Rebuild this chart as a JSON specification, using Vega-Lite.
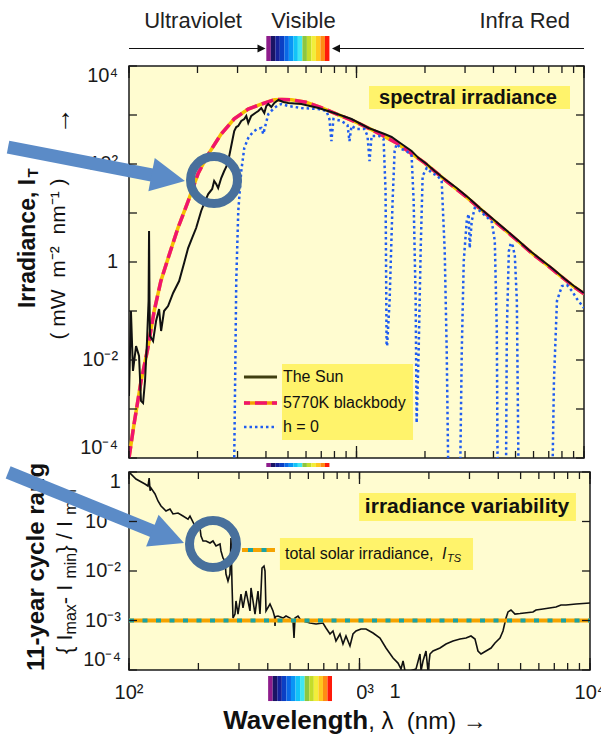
{
"$schema": "https://vega.github.io/schema/vega-lite/v6.json",
"background": "white",
"padding": {"left": 0, "top": 9, "right": 0, "bottom": 0},
"spacing": 14,
"bounds": "flush",
"config": {
  "view": {"fill": "#fffcd0", "stroke": "#1a1a1a", "strokeWidth": 1.5},
  "text": {"font": "Liberation Sans", "color": "#111111"}
},
"datasets": {
  "xminor": [{"w":100},{"w":200},{"w":300},{"w":400},{"w":500},{"w":600},{"w":700},{"w":800},{"w":900},{"w":1000},{"w":2000},{"w":3000},{"w":4000},{"w":5000},{"w":6000},{"w":7000},{"w":8000},{"w":9000},{"w":10000}],
  "xmajor": [{"w":100},{"w":1000},{"w":10000}],
  "ytop": [{"v":0.0001},{"v":0.001},{"v":0.01},{"v":0.1},{"v":1},{"v":10},{"v":100},{"v":1000},{"v":10000}],
  "ybot": [{"v":0.0001},{"v":0.001},{"v":0.01},{"v":0.1},{"v":1}],
  "ytoplab": [{"v":100,"t":"10²"},{"v":1,"t":"1"},{"v":0.01,"t":"10⁻²"}],
  "ybotlab": [{"v":0.1,"t":"10⁻¹"},{"v":0.01,"t":"10⁻²"},{"v":0.001,"t":"10⁻³"}],
  "xlab": [{"w":100,"t":"10²"},{"w":1000,"t":"10³"},{"w":10000,"t":"10⁴"}],
  "sun": [{"w":100,"v":0.00184},{"w":102,"v":0.1},{"w":104.1,"v":0.00597},{"w":107.4,"v":0.0193},{"w":110.7,"v":0.0121},{"w":112.9,"v":0.00146},{"w":115.3,"v":0.00132},{"w":117.6,"v":0.00372},{"w":120,"v":0.0244},{"w":121.9,"v":0.16},{"w":122.5,"v":4.3},{"w":123.1,"v":0.16},{"w":123.7,"v":0.0309},{"w":127.6,"v":0.0244},{"w":131.5,"v":0.0625},{"w":135.6,"v":0.11},{"w":138.4,"v":0.0391},{"w":142.6,"v":0.1},{"w":148.5,"v":0.126},{"w":156.3,"v":0.233},{"w":166.1,"v":0.409},{"w":174.7,"v":0.955},{"w":181.9,"v":1.93},{"w":189.5,"v":3.09},{"w":197.3,"v":4.94},{"w":207.6,"v":11},{"w":216.2,"v":17.6},{"w":222.9,"v":24.4},{"w":232.1,"v":30.9},{"w":236.8,"v":45},{"w":241.7,"v":39.1},{"w":246.6,"v":32.4},{"w":254.3,"v":51.8},{"w":262.1,"v":71.9},{"w":267.5,"v":86.9},{"w":273,"v":115},{"w":278.6,"v":184},{"w":284.3,"v":294},{"w":290.1,"v":471},{"w":296.1,"v":569},{"w":302.1,"v":597},{"w":311.5,"v":755},{"w":321.1,"v":828},{"w":327.7,"v":955},{"w":334.4,"v":687},{"w":344.7,"v":955},{"w":359,"v":1099},{"w":370.1,"v":1208},{"w":381.5,"v":1390},{"w":393.3,"v":1099},{"w":401.4,"v":1528},{"w":409.6,"v":1675},{"w":422.3,"v":1455},{"w":435.3,"v":1758},{"w":453.4,"v":2023},{"w":476.9,"v":1841},{"w":501.7,"v":1758},{"w":572.4,"v":1675},{"w":680.2,"v":1390},{"w":800,"v":1099},{"w":950.6,"v":828},{"w":1129.6,"v":543},{"w":1328.7,"v":409},{"w":1426,"v":356},{"w":1578.7,"v":256},{"w":1747,"v":184},{"w":1875.8,"v":132},{"w":2034,"v":100},{"w":2206,"v":71.9},{"w":2442,"v":49.4},{"w":2758,"v":32.4},{"w":3114.8,"v":20.2},{"w":3483,"v":12.6},{"w":3933,"v":7.91},{"w":4487,"v":4.71},{"w":5173,"v":2.69},{"w":5724,"v":1.76},{"w":6338,"v":1.21},{"w":7228,"v":0.755},{"w":8246,"v":0.45},{"w":9034,"v":0.324},{"w":10000,"v":0.233}],
  "bb": [{"w":100,"v":0.0001},{"w":105.2,"v":0.00049},{"w":113,"v":0.00372},{"w":121,"v":0.0174},{"w":129,"v":0.1},{"w":138,"v":0.407},{"w":148.6,"v":1.2},{"w":164,"v":4.9},{"w":182,"v":17.4},{"w":201,"v":63.1},{"w":223,"v":158},{"w":254,"v":407},{"w":290,"v":832},{"w":334,"v":1318},{"w":381,"v":1660},{"w":435,"v":2042},{"w":470,"v":2080},{"w":518,"v":2042},{"w":600,"v":1820},{"w":700,"v":1413},{"w":800,"v":1096},{"w":1000,"v":708},{"w":1200,"v":468},{"w":1500,"v":269},{"w":2000,"v":104},{"w":2500,"v":43.7},{"w":3000,"v":22.4},{"w":4000,"v":7.08},{"w":5000,"v":2.95},{"w":6000,"v":1.41},{"w":7000,"v":0.813},{"w":8000,"v":0.49},{"w":9000,"v":0.316},{"w":10000,"v":0.224}],
  "h0": [{"w":285,"v":0.00001},{"w":290.1,"v":0.0001},{"w":293.1,"v":0.00597},{"w":296.1,"v":0.409},{"w":302.2,"v":11},{"w":311.5,"v":71.9},{"w":321.1,"v":212},{"w":334.4,"v":340},{"w":344.7,"v":409},{"w":355.3,"v":471},{"w":366.4,"v":518},{"w":381.5,"v":543},{"w":389.3,"v":409},{"w":397.3,"v":597},{"w":409.6,"v":1047},{"w":422.3,"v":1208},{"w":435.3,"v":1390},{"w":453.4,"v":1600},{"w":467.4,"v":1675},{"w":501.8,"v":1528},{"w":572.4,"v":1390},{"w":680.2,"v":1324},{"w":737.7,"v":1208},{"w":760.4,"v":828},{"w":776,"v":294},{"w":791.9,"v":828},{"w":859.1,"v":755},{"w":912.9,"v":625},{"w":931.6,"v":294},{"w":950.6,"v":597},{"w":1000,"v":518},{"w":1084,"v":518},{"w":1118,"v":372},{"w":1141,"v":115},{"w":1165,"v":372},{"w":1263,"v":372},{"w":1315,"v":324},{"w":1342,"v":28.1},{"w":1356,"v":0.0193},{"w":1363,"v":0.0193},{"w":1398,"v":0.16},{"w":1441,"v":17.6},{"w":1471,"v":184},{"w":1501,"v":256},{"w":1578,"v":202},{"w":1661,"v":184},{"w":1747,"v":146},{"w":1783,"v":17.6},{"w":1820,"v":0.16},{"w":1838,"v":0.000518},{"w":1876,"v":0.0153},{"w":1914,"v":1.67},{"w":1953,"v":56.9},{"w":2035,"v":82.8},{"w":2140,"v":65.5},{"w":2274,"v":56.9},{"w":2368,"v":45},{"w":2442,"v":1.67},{"w":2492,"v":0.0153},{"w":2543,"v":0.00001},{"w":2843,"v":0.00001},{"w":2902,"v":0.0153},{"w":2961,"v":1.05},{"w":3051,"v":6.87},{"w":3113,"v":9.55},{"w":3145,"v":1.93},{"w":3210,"v":6.87},{"w":3309,"v":12.6},{"w":3446,"v":11.5},{"w":3739,"v":8.3},{"w":3933,"v":6.6},{"w":4054,"v":2.69},{"w":4138,"v":0.0391},{"w":4180,"v":0.00001},{"w":4533,"v":0.00001},{"w":4579,"v":0.0391},{"w":4673,"v":1.67},{"w":4769,"v":2.44},{"w":4866,"v":2.12},{"w":4966,"v":1.32},{"w":5068,"v":0.16},{"w":5172,"v":0.00001},{"w":7228,"v":0.00001},{"w":7377,"v":0.00372},{"w":7605,"v":0.16},{"w":8000,"v":0.324},{"w":8416,"v":0.34},{"w":8854,"v":0.256},{"w":9316,"v":0.176},{"w":10000,"v":0.115}],
  "var": [{"w":100,"v":1},{"w":107.2,"v":0.722},{"w":117.3,"v":0.572},{"w":120.9,"v":0.521},{"w":122.3,"v":0.75},{"w":123.5,"v":0.42},{"w":124.6,"v":0.475},{"w":129.7,"v":0.36},{"w":133.6,"v":0.26},{"w":137.7,"v":0.206},{"w":144.7,"v":0.163},{"w":150.6,"v":0.179},{"w":155.2,"v":0.142},{"w":163.2,"v":0.148},{"w":171.5,"v":0.129},{"w":180.3,"v":0.112},{"w":183.9,"v":0.129},{"w":193.4,"v":0.0811},{"w":203.3,"v":0.0739},{"w":205.3,"v":0.0509},{"w":209.5,"v":0.0404},{"w":215.8,"v":0.0404},{"w":224.6,"v":0.0368},{"w":231.4,"v":0.0404},{"w":238.5,"v":0.032},{"w":248.2,"v":0.0351},{"w":250.7,"v":0.0254},{"w":255.7,"v":0.0183},{"w":260.9,"v":0.0159},{"w":263.5,"v":0.00869},{"w":268.8,"v":0.00628},{"w":274.2,"v":0.00869},{"w":277,"v":0.0464},{"w":279.8,"v":0.00546},{"w":282.6,"v":0.00112},{"w":288.3,"v":0.00135},{"w":291.2,"v":0.00248},{"w":297.1,"v":0.00135},{"w":306.1,"v":0.00343},{"w":312.3,"v":0.00179},{"w":321.8,"v":0.00394},{"w":334.9,"v":0.00156},{"w":338.3,"v":0.00454},{"w":352.1,"v":0.00135},{"w":362.8,"v":0.00394},{"w":370.1,"v":0.00135},{"w":377.6,"v":0.0115},{"w":385.2,"v":0.0126},{"w":389.1,"v":0.01},{"w":393,"v":0.00156},{"w":409,"v":0.00215},{"w":421.5,"v":0.00156},{"w":428,"v":0.0012},{"w":430,"v":0.000774},{"w":432,"v":0.0012},{"w":443.1,"v":0.00123},{"w":465.8,"v":0.00112},{"w":479.9,"v":0.00123},{"w":499.5,"v":0.00112},{"w":514.7,"v":0.000977},{"w":519.9,"v":0.000443},{"w":525.1,"v":0.00112},{"w":541.1,"v":0.00123},{"w":552,"v":0.00107},{"w":568.8,"v":0.000977},{"w":610,"v":0.000889},{"w":647.7,"v":0.000849},{"w":694.4,"v":0.000889},{"w":715.5,"v":0.000705},{"w":744.7,"v":0.000533},{"w":767.3,"v":0.000614},{"w":790.6,"v":0.000385},{"w":822.9,"v":0.000533},{"w":847.9,"v":0.000335},{"w":873.7,"v":0.000486},{"w":909.3,"v":0.000305},{"w":937,"v":0.000533},{"w":965.7,"v":0.000614},{"w":1015,"v":0.000673},{"w":1067,"v":0.000673},{"w":1145,"v":0.000559},{"w":1227,"v":0.000443},{"w":1303,"v":0.000278},{"w":1398,"v":0.000175},{"w":1469,"v":0.000138},{"w":1514,"v":0.000105},{"w":1545,"v":0.000152},{"w":1576,"v":0.0000955},{"w":1656,"v":0.0000955},{"w":1759,"v":0.000105},{"w":1830,"v":0.00021},{"w":1849,"v":0.0000955},{"w":1886,"v":0.000152},{"w":1943,"v":0.000242},{"w":1982,"v":0.0000955},{"w":2022,"v":0.00021},{"w":2084,"v":0.000242},{"w":2235,"v":0.000278},{"w":2373,"v":0.000335},{"w":2545,"v":0.000385},{"w":2730,"v":0.000423},{"w":2898,"v":0.000443},{"w":3046,"v":0.000486},{"w":3170,"v":0.000423},{"w":3266,"v":0.000242},{"w":3366,"v":0.00021},{"w":3539,"v":0.000242},{"w":3720,"v":0.000278},{"w":3871,"v":0.000351},{"w":4069,"v":0.000443},{"w":4193,"v":0.000614},{"w":4321,"v":0.00112},{"w":4408,"v":0.00149},{"w":4542,"v":0.00163},{"w":4727,"v":0.00135},{"w":4969,"v":0.00138},{"w":5658,"v":0.00149},{"w":5831,"v":0.00163},{"w":6253,"v":0.00171},{"w":7118,"v":0.00187},{"w":7483,"v":0.00206},{"w":7869,"v":0.00206},{"w":8697,"v":0.00215},{"w":10000,"v":0.00226}],
  "stripes": [{"lo":401.4,"hi":420.1,"c":0},{"lo":420.1,"hi":439.7,"c":1},{"lo":439.7,"hi":460.3,"c":2},{"lo":460.3,"hi":481.7,"c":3},{"lo":481.7,"hi":504.3,"c":4},{"lo":504.3,"hi":527.8,"c":5},{"lo":527.8,"hi":552.4,"c":6},{"lo":552.4,"hi":578.2,"c":7},{"lo":578.2,"hi":605.3,"c":8},{"lo":605.3,"hi":633.5,"c":9},{"lo":633.5,"hi":663.1,"c":10},{"lo":663.1,"hi":694.2,"c":11},{"lo":694.2,"hi":726.6,"c":12},{"lo":726.6,"hi":760.3,"c":13}]
},
"vconcat": [
{
  "width": 455, "height": 392,
  "data": {"values": [{}]},
  "layer": [
    {"data": {"name": "bb"}, "mark": {"type": "line", "color": "#f5c000", "strokeWidth": 3.5, "clip": true},
     "encoding": {"x": {"field": "w", "type": "quantitative", "scale": {"type": "log", "domain": [100, 10000], "nice": false}, "axis": null}, "y": {"field": "v", "type": "quantitative", "scale": {"type": "log", "domain": [0.0001, 10000], "nice": false}, "axis": null}}},
    {"mark": {"type": "text", "text": "10⁴", "fontSize": 20, "align": "right", "baseline": "top", "color": "#1a1a1a"},
     "encoding": {"x": {"datum": 89.5, "type": "quantitative", "axis": null}, "y": {"datum": 10000, "type": "quantitative", "axis": null}}},
    {"data": {"name": "ytoplab"}, "mark": {"type": "text", "fontSize": 20, "align": "right", "baseline": "middle", "color": "#1a1a1a"},
     "encoding": {"x": {"datum": 89.5, "type": "quantitative", "axis": null}, "y": {"field": "v", "type": "quantitative", "axis": null}, "text": {"field": "t", "type": "nominal"}}},
    {"mark": {"type": "text", "text": "10⁻⁴", "fontSize": 20, "align": "right", "baseline": "bottom", "color": "#1a1a1a"},
     "encoding": {"x": {"datum": 89.5, "type": "quantitative", "axis": null}, "y": {"datum": 0.0001, "type": "quantitative", "axis": null}}},
    {"data": {"name": "bb"}, "mark": {"type": "line", "color": "#f0146e", "strokeWidth": 3.5, "strokeDash": [12, 5], "clip": true},
     "encoding": {"x": {"field": "w", "type": "quantitative", "axis": null}, "y": {"field": "v", "type": "quantitative", "axis": null}}},
    {"data": {"name": "h0"}, "mark": {"type": "line", "color": "#1f5cf0", "strokeWidth": 2.5, "strokeDash": [2.5, 3], "clip": true},
     "encoding": {"x": {"field": "w", "type": "quantitative", "axis": null}, "y": {"field": "v", "type": "quantitative", "axis": null}}},
    {"data": {"name": "sun"}, "mark": {"type": "line", "color": "#111111", "strokeWidth": 2, "clip": true},
     "encoding": {"x": {"field": "w", "type": "quantitative", "axis": null}, "y": {"field": "v", "type": "quantitative", "axis": null}}},
    {"mark": {"type": "rect", "color": "#fff36b"},
     "encoding": {"x": {"datum": 1135, "type": "quantitative", "axis": null}, "x2": {"datum": 8679}, "y": {"datum": 3908, "type": "quantitative", "axis": null}, "y2": {"datum": 1324}}},
    {"mark": {"type": "text", "text": "spectral irradiance", "fontSize": 20, "fontWeight": "bold", "align": "center", "baseline": "middle"},
     "encoding": {"x": {"datum": 3090, "type": "quantitative", "axis": null}, "y": {"datum": 2275, "type": "quantitative", "axis": null}}},
    {"mark": {"type": "rect", "color": "#fff36b"},
     "encoding": {"x": {"datum": 470.5, "type": "quantitative", "axis": null}, "x2": {"datum": 1772}, "y": {"datum": 0.00828, "type": "quantitative", "axis": null}, "y2": {"datum": 0.000233}}},
    {"mark": {"type": "rule", "color": "#403f10", "strokeWidth": 3},
     "encoding": {"x": {"datum": 320.2, "type": "quantitative", "axis": null}, "x2": {"datum": 447.3}, "y": {"datum": 0.0045, "type": "quantitative", "axis": null}}},
    {"mark": {"type": "rule", "color": "#f5a000", "strokeWidth": 3.5},
     "encoding": {"x": {"datum": 320.2, "type": "quantitative", "axis": null}, "x2": {"datum": 447.3}, "y": {"datum": 0.00132, "type": "quantitative", "axis": null}}},
    {"mark": {"type": "rule", "color": "#f0146e", "strokeWidth": 3.5, "strokeDash": [12, 5], "strokeDashOffset": 6},
     "encoding": {"x": {"datum": 320.2, "type": "quantitative", "axis": null}, "x2": {"datum": 447.3}, "y": {"datum": 0.00132, "type": "quantitative", "axis": null}}},
    {"mark": {"type": "rule", "color": "#1f5cf0", "strokeWidth": 2.5, "strokeDash": [2.5, 3]},
     "encoding": {"x": {"datum": 320.2, "type": "quantitative", "axis": null}, "x2": {"datum": 447.3}, "y": {"datum": 0.00043, "type": "quantitative", "axis": null}}},
    {"mark": {"type": "text", "text": "The Sun", "fontSize": 16, "align": "left", "baseline": "middle"},
     "encoding": {"x": {"datum": 475, "type": "quantitative", "axis": null}, "y": {"datum": 0.0045, "type": "quantitative", "axis": null}}},
    {"mark": {"type": "text", "text": "5770K blackbody", "fontSize": 16, "align": "left", "baseline": "middle"},
     "encoding": {"x": {"datum": 475, "type": "quantitative", "axis": null}, "y": {"datum": 0.00132, "type": "quantitative", "axis": null}}},
    {"mark": {"type": "text", "text": "h = 0", "fontSize": 16, "align": "left", "baseline": "middle"},
     "encoding": {"x": {"datum": 475, "type": "quantitative", "axis": null}, "y": {"datum": 0.00043, "type": "quantitative", "axis": null}}},
    {"mark": {"type": "text", "text": "Ultraviolet", "fontSize": 22, "align": "right", "baseline": "alphabetic", "color": "#222222"},
     "encoding": {"x": {"datum": 313.8, "type": "quantitative", "axis": null}, "y": {"datum": 59700, "type": "quantitative", "axis": null}}},
    {"mark": {"type": "text", "text": "Visible", "fontSize": 22, "align": "center", "baseline": "alphabetic", "color": "#222222"},
     "encoding": {"x": {"datum": 584.8, "type": "quantitative", "axis": null}, "y": {"datum": 59700, "type": "quantitative", "axis": null}}},
    {"mark": {"type": "text", "text": "Infra Red", "fontSize": 22, "align": "right", "baseline": "alphabetic", "color": "#222222"},
     "encoding": {"x": {"datum": 8679, "type": "quantitative", "axis": null}, "y": {"datum": 59700, "type": "quantitative", "axis": null}}},
    {"mark": {"type": "rule", "color": "#111111", "strokeWidth": 1.2},
     "encoding": {"x": {"datum": 100, "type": "quantitative", "axis": null}, "x2": {"datum": 376.5}, "y": {"datum": 22750, "type": "quantitative", "axis": null}}},
    {"mark": {"type": "point", "shape": "M -1 -1 L 1 0 L -1 1 Z", "filled": true, "size": 64, "angle": 0, "color": "#111111", "opacity": 1, "strokeWidth": 0},
     "encoding": {"x": {"datum": 382.4, "type": "quantitative", "axis": null}, "y": {"datum": 22750, "type": "quantitative", "axis": null}}},
    {"mark": {"type": "rule", "color": "#111111", "strokeWidth": 1.2},
     "encoding": {"x": {"datum": 829, "type": "quantitative", "axis": null}, "x2": {"datum": 10000}, "y": {"datum": 22750, "type": "quantitative", "axis": null}}},
    {"mark": {"type": "point", "shape": "M -1 -1 L 1 0 L -1 1 Z", "filled": true, "size": 64, "angle": 180, "color": "#111111", "opacity": 1, "strokeWidth": 0},
     "encoding": {"x": {"datum": 812.7, "type": "quantitative", "axis": null}, "y": {"datum": 22750, "type": "quantitative", "axis": null}}},
    {"data": {"name": "stripes"}, "mark": {"type": "rect"},
     "encoding": {"x": {"field": "lo", "type": "quantitative", "axis": null}, "x2": {"field": "hi"}, "y": {"datum": 40900, "type": "quantitative", "axis": null}, "y2": {"datum": 12640},
       "color": {"field": "c", "type": "nominal", "legend": null, "scale": {"domain": [0,1,2,3,4,5,6,7,8,9,10,11,12,13], "range": ["#8e1d8c","#1a1464","#16219a","#0b3fc4","#0a68e6","#0a95f5","#12c4f8","#40e6f2","#8dc63f","#c4dc2a","#f2ee3a","#ffc81e","#ff8c14","#ff1a0a"]}}}},
    {"data": {"name": "stripes"}, "mark": {"type": "rect"},
     "encoding": {"x": {"field": "lo", "type": "quantitative", "axis": null}, "x2": {"field": "hi"}, "y": {"datum": 0.0000791, "type": "quantitative", "axis": null}, "y2": {"datum": 0.0000655},
       "color": {"field": "c", "type": "nominal", "legend": null, "scale": {"domain": [0,1,2,3,4,5,6,7,8,9,10,11,12,13], "range": ["#8e1d8c","#1a1464","#16219a","#0b3fc4","#0a68e6","#0a95f5","#12c4f8","#40e6f2","#8dc63f","#c4dc2a","#f2ee3a","#ffc81e","#ff8c14","#ff1a0a"]}}}},
    {"mark": {"type": "text", "text": "Irradiance, I", "angle": 270, "align": "left", "baseline": "middle", "fontSize": 23, "fontWeight": "bold"},
     "encoding": {"x": {"datum": 36.0, "type": "quantitative", "axis": null}, "y": {"datum": 0.115, "type": "quantitative", "axis": null}}},
    {"mark": {"type": "text", "text": "T", "angle": 270, "align": "center", "baseline": "middle", "fontSize": 15, "fontWeight": "bold"},
     "encoding": {"x": {"datum": 37.8, "type": "quantitative", "axis": null}, "y": {"datum": 65.5, "type": "quantitative", "axis": null}}},
    {"mark": {"type": "text", "text": "( mW\u00a0\u00a0m⁻²\u00a0\u00a0nm⁻¹ )", "angle": 270, "align": "center", "baseline": "middle", "fontSize": 21},
     "encoding": {"x": {"datum": 49.2, "type": "quantitative", "axis": null}, "y": {"datum": 1.15, "type": "quantitative", "axis": null}}},
    {"mark": {"type": "text", "text": "→", "angle": 270, "align": "center", "baseline": "middle", "fontSize": 27},
     "encoding": {"x": {"datum": 50.8, "type": "quantitative", "axis": null}, "y": {"datum": 755, "type": "quantitative", "axis": null}}},
    {"mark": {"type": "rule", "color": "#5b8bc7", "strokeWidth": 13},
     "encoding": {"x": {"datum": 29.4, "type": "quantitative", "axis": null}, "x2": {"datum": 132.8}, "y": {"datum": 222, "type": "quantitative", "axis": null}, "y2": {"datum": 56.9}}},
    {"mark": {"type": "point", "shape": "M -1 -1 L 1 0 L -1 1 Z", "filled": true, "size": 1156, "angle": 10.8, "color": "#5b8bc7", "opacity": 1, "strokeWidth": 0},
     "encoding": {"x": {"datum": 148.8, "type": "quantitative", "axis": null}, "y": {"datum": 52.3, "type": "quantitative", "axis": null}}},
    {"mark": {"type": "point", "shape": "circle", "filled": false, "size": 2206, "strokeWidth": 9, "color": "#48709c", "opacity": 1},
     "encoding": {"x": {"datum": 236.4, "type": "quantitative", "axis": null}, "y": {"datum": 47.1, "type": "quantitative", "axis": null}}},
    {"data": {"name": "xminor"}, "mark": {"type": "rule", "color": "#1a1a1a", "strokeWidth": 1.3},
     "encoding": {"x": {"field": "w", "type": "quantitative", "axis": null}, "y": {"datum": 0.0001, "type": "quantitative", "axis": null}, "y2": {"datum": 0.0001389}}},
    {"data": {"name": "xminor"}, "mark": {"type": "rule", "color": "#1a1a1a", "strokeWidth": 1.3},
     "encoding": {"x": {"field": "w", "type": "quantitative", "axis": null}, "y": {"datum": 10000, "type": "quantitative", "axis": null}, "y2": {"datum": 7199}}},
    {"data": {"name": "xmajor"}, "mark": {"type": "rule", "color": "#1a1a1a", "strokeWidth": 1.3},
     "encoding": {"x": {"field": "w", "type": "quantitative", "axis": null}, "y": {"datum": 0.0001, "type": "quantitative", "axis": null}, "y2": {"datum": 0.0001758}}},
    {"data": {"name": "xmajor"}, "mark": {"type": "rule", "color": "#1a1a1a", "strokeWidth": 1.3},
     "encoding": {"x": {"field": "w", "type": "quantitative", "axis": null}, "y": {"datum": 10000, "type": "quantitative", "axis": null}, "y2": {"datum": 5689}}},
    {"data": {"name": "ytop"}, "mark": {"type": "rule", "color": "#1a1a1a", "strokeWidth": 1.3},
     "encoding": {"y": {"field": "v", "type": "quantitative", "axis": null}, "x": {"datum": 100, "type": "quantitative", "axis": null}, "x2": {"datum": 108.4}}},
    {"data": {"name": "ytop"}, "mark": {"type": "rule", "color": "#1a1a1a", "strokeWidth": 1.3},
     "encoding": {"y": {"field": "v", "type": "quantitative", "axis": null}, "x": {"datum": 10000, "type": "quantitative", "axis": null}, "x2": {"datum": 9222}}}
  ]
},
{
  "width": 461, "height": 198,
  "data": {"values": [{}]},
  "layer": [
    {"data": {"name": "var"}, "mark": {"type": "line", "color": "#111111", "strokeWidth": 1.6, "clip": true},
     "encoding": {"x": {"field": "w", "type": "quantitative", "scale": {"type": "log", "domain": [100, 10000], "nice": false}, "axis": null}, "y": {"field": "v", "type": "quantitative", "scale": {"type": "log", "domain": [0.0001, 1], "nice": false}, "axis": null}}},
    {"mark": {"type": "text", "text": "1", "fontSize": 20, "align": "right", "baseline": "top", "color": "#1a1a1a"},
     "encoding": {"x": {"datum": 92.3, "type": "quantitative", "axis": null}, "y": {"datum": 1, "type": "quantitative", "axis": null}}},
    {"data": {"name": "ybotlab"}, "mark": {"type": "text", "fontSize": 20, "align": "right", "baseline": "middle", "color": "#1a1a1a"},
     "encoding": {"x": {"datum": 92.3, "type": "quantitative", "axis": null}, "y": {"field": "v", "type": "quantitative", "axis": null}, "text": {"field": "t", "type": "nominal"}}},
    {"mark": {"type": "text", "text": "10⁻⁴", "fontSize": 20, "align": "right", "baseline": "bottom", "color": "#1a1a1a"},
     "encoding": {"x": {"datum": 92.3, "type": "quantitative", "axis": null}, "y": {"datum": 0.0001, "type": "quantitative", "axis": null}}},
    {"data": {"name": "xlab"}, "mark": {"type": "text", "fontSize": 20, "align": "center", "baseline": "top", "color": "#1a1a1a"},
     "encoding": {"x": {"field": "w", "type": "quantitative", "axis": null}, "y": {"datum": 0.0000546, "type": "quantitative", "axis": null}, "text": {"field": "t", "type": "nominal"}}},
    {"mark": {"type": "rule", "color": "#f5a300", "strokeWidth": 4},
     "encoding": {"x": {"datum": 100, "type": "quantitative", "axis": null}, "x2": {"datum": 10000}, "y": {"datum": 0.001, "type": "quantitative", "axis": null}}},
    {"mark": {"type": "rule", "color": "#1aa3a3", "strokeWidth": 4, "strokeDash": [5, 8.5]},
     "encoding": {"x": {"datum": 100, "type": "quantitative", "axis": null}, "x2": {"datum": 10000}, "y": {"datum": 0.001, "type": "quantitative", "axis": null}}},
    {"mark": {"type": "rect", "color": "#fff36b"},
     "encoding": {"x": {"datum": 996, "type": "quantitative", "axis": null}, "x2": {"datum": 8690}, "y": {"datum": 0.3765, "type": "quantitative", "axis": null}, "y2": {"datum": 0.1023}}},
    {"mark": {"type": "text", "text": "irradiance variability", "fontSize": 21, "fontWeight": "bold", "align": "center", "baseline": "middle"},
     "encoding": {"x": {"datum": 2927, "type": "quantitative", "axis": null}, "y": {"datum": 0.1963, "type": "quantitative", "axis": null}}},
    {"mark": {"type": "rect", "color": "#fff36b"},
     "encoding": {"x": {"datum": 451.6, "type": "quantitative", "axis": null}, "x2": {"datum": 3108}, "y": {"datum": 0.0464, "type": "quantitative", "axis": null}, "y2": {"datum": 0.01047}}},
    {"mark": {"type": "text", "text": "total solar irradiance,", "fontSize": 16, "align": "left", "baseline": "middle"},
     "encoding": {"x": {"datum": 475, "type": "quantitative", "axis": null}, "y": {"datum": 0.0221, "type": "quantitative", "axis": null}}},
    {"mark": {"type": "text", "text": "I", "fontSize": 16, "fontStyle": "italic", "align": "left", "baseline": "middle"},
     "encoding": {"x": {"datum": 2280, "type": "quantitative", "axis": null}, "y": {"datum": 0.0221, "type": "quantitative", "axis": null}}},
    {"mark": {"type": "text", "text": "TS", "fontSize": 11, "fontStyle": "italic", "align": "left", "baseline": "middle"},
     "encoding": {"x": {"datum": 2397, "type": "quantitative", "axis": null}, "y": {"datum": 0.01747, "type": "quantitative", "axis": null}}},
    {"mark": {"type": "rule", "color": "#f5a300", "strokeWidth": 4},
     "encoding": {"x": {"datum": 309.2, "type": "quantitative", "axis": null}, "x2": {"datum": 429.9}, "y": {"datum": 0.02656, "type": "quantitative", "axis": null}}},
    {"mark": {"type": "rule", "color": "#1aa3a3", "strokeWidth": 4, "strokeDash": [5, 8.5], "strokeDashOffset": -6},
     "encoding": {"x": {"datum": 309.2, "type": "quantitative", "axis": null}, "x2": {"datum": 429.9}, "y": {"datum": 0.02656, "type": "quantitative", "axis": null}}},
    {"data": {"name": "stripes"}, "mark": {"type": "rect"},
     "encoding": {"x": {"field": "lo", "type": "quantitative", "axis": null}, "x2": {"field": "hi"}, "y": {"datum": 0.0000757, "type": "quantitative", "axis": null}, "y2": {"datum": 0.0000236},
       "color": {"field": "c", "type": "nominal", "legend": null, "scale": {"domain": [0,1,2,3,4,5,6,7,8,9,10,11,12,13], "range": ["#8e1d8c","#1a1464","#16219a","#0b3fc4","#0a68e6","#0a95f5","#12c4f8","#40e6f2","#8dc63f","#c4dc2a","#f2ee3a","#ffc81e","#ff8c14","#ff1a0a"]}}}},
    {"mark": {"type": "rect", "color": "white"},
     "encoding": {"x": {"datum": 760.3, "type": "quantitative", "axis": null}, "x2": {"datum": 975}, "y": {"datum": 0.0000757, "type": "quantitative", "axis": null}, "y2": {"datum": 0.0000236}}},
    {"mark": {"type": "text", "text": "1", "fontSize": 20, "align": "center", "baseline": "middle", "color": "#1a1a1a"},
     "encoding": {"x": {"datum": 1426, "type": "quantitative", "axis": null}, "y": {"datum": 0.000036, "type": "quantitative", "axis": null}}},
    {"mark": {"type": "text", "text": "Wavelength", "fontSize": 26, "fontWeight": "bold", "align": "right", "baseline": "alphabetic"},
     "encoding": {"x": {"datum": 1090, "type": "quantitative", "axis": null}, "y": {"datum": 0.00000643, "type": "quantitative", "axis": null}}},
    {"mark": {"type": "text", "text": ", λ\u00a0\u00a0(nm) →", "fontSize": 24, "align": "left", "baseline": "alphabetic"},
     "encoding": {"x": {"datum": 1090, "type": "quantitative", "axis": null}, "y": {"datum": 0.00000643, "type": "quantitative", "axis": null}}},
    {"mark": {"type": "text", "text": "11-year cycle rang", "angle": 270, "align": "left", "baseline": "middle", "fontSize": 24, "fontWeight": "bold"},
     "encoding": {"x": {"datum": 39.9, "type": "quantitative", "axis": null}, "y": {"datum": 0.0000955, "type": "quantitative", "axis": null}}},
    {"mark": {"type": "text", "text": "{\u00a0I", "angle": 270, "align": "left", "baseline": "middle", "fontSize": 22},
     "encoding": {"x": {"datum": 52.8, "type": "quantitative", "axis": null}, "y": {"datum": 0.00021, "type": "quantitative", "axis": null}}},
    {"mark": {"type": "text", "text": "max", "angle": 270, "align": "left", "baseline": "middle", "fontSize": 16},
     "encoding": {"x": {"datum": 56.0, "type": "quantitative", "axis": null}, "y": {"datum": 0.000524, "type": "quantitative", "axis": null}}},
    {"mark": {"type": "text", "text": "\u00a0\u00a0-\u00a0I", "angle": 270, "align": "left", "baseline": "middle", "fontSize": 22},
     "encoding": {"x": {"datum": 52.8, "type": "quantitative", "axis": null}, "y": {"datum": 0.00213, "type": "quantitative", "axis": null}}},
    {"mark": {"type": "text", "text": "min", "angle": 270, "align": "left", "baseline": "middle", "fontSize": 16},
     "encoding": {"x": {"datum": 56.0, "type": "quantitative", "axis": null}, "y": {"datum": 0.00705, "type": "quantitative", "axis": null}}},
    {"mark": {"type": "text", "text": "\u00a0}\u00a0/\u00a0I", "angle": 270, "align": "left", "baseline": "middle", "fontSize": 22},
     "encoding": {"x": {"datum": 52.8, "type": "quantitative", "axis": null}, "y": {"datum": 0.0234, "type": "quantitative", "axis": null}}},
    {"mark": {"type": "text", "text": "min", "angle": 270, "align": "left", "baseline": "middle", "fontSize": 16},
     "encoding": {"x": {"datum": 56.0, "type": "quantitative", "axis": null}, "y": {"datum": 0.1366, "type": "quantitative", "axis": null}}},
    {"mark": {"type": "rule", "color": "#5b8bc7", "strokeWidth": 13},
     "encoding": {"x": {"datum": 29.9, "type": "quantitative", "axis": null}, "x2": {"datum": 132.3}, "y": {"datum": 0.982, "type": "quantitative", "axis": null}, "y2": {"datum": 0.0594}}},
    {"mark": {"type": "point", "shape": "M -1 -1 L 1 0 L -1 1 Z", "filled": true, "size": 1156, "angle": 21.5, "color": "#5b8bc7", "opacity": 1, "strokeWidth": 0},
     "encoding": {"x": {"datum": 147.9, "type": "quantitative", "axis": null}, "y": {"datum": 0.0491, "type": "quantitative", "axis": null}}},
    {"mark": {"type": "point", "shape": "circle", "filled": false, "size": 2206, "strokeWidth": 9, "color": "#48709c", "opacity": 1},
     "encoding": {"x": {"datum": 231.4, "type": "quantitative", "axis": null}, "y": {"datum": 0.0351, "type": "quantitative", "axis": null}}},
    {"data": {"name": "xminor"}, "mark": {"type": "rule", "color": "#1a1a1a", "strokeWidth": 1.3},
     "encoding": {"x": {"field": "w", "type": "quantitative", "axis": null}, "y": {"datum": 0.0001, "type": "quantitative", "axis": null}, "y2": {"datum": 0.0001385}}},
    {"data": {"name": "xminor"}, "mark": {"type": "rule", "color": "#1a1a1a", "strokeWidth": 1.3},
     "encoding": {"x": {"field": "w", "type": "quantitative", "axis": null}, "y": {"datum": 1, "type": "quantitative", "axis": null}, "y2": {"datum": 0.722}}},
    {"data": {"name": "xmajor"}, "mark": {"type": "rule", "color": "#1a1a1a", "strokeWidth": 1.3},
     "encoding": {"x": {"field": "w", "type": "quantitative", "axis": null}, "y": {"datum": 0.0001, "type": "quantitative", "axis": null}, "y2": {"datum": 0.0001747}}},
    {"data": {"name": "xmajor"}, "mark": {"type": "rule", "color": "#1a1a1a", "strokeWidth": 1.3},
     "encoding": {"x": {"field": "w", "type": "quantitative", "axis": null}, "y": {"datum": 1, "type": "quantitative", "axis": null}, "y2": {"datum": 0.572}}},
    {"data": {"name": "ybot"}, "mark": {"type": "rule", "color": "#1a1a1a", "strokeWidth": 1.3},
     "encoding": {"y": {"field": "v", "type": "quantitative", "axis": null}, "x": {"datum": 100, "type": "quantitative", "axis": null}, "x2": {"datum": 108.3}}},
    {"data": {"name": "ybot"}, "mark": {"type": "rule", "color": "#1a1a1a", "strokeWidth": 1.3},
     "encoding": {"y": {"field": "v", "type": "quantitative", "axis": null}, "x": {"datum": 10000, "type": "quantitative", "axis": null}, "x2": {"datum": 9233}}}
  ]
}
]
}
